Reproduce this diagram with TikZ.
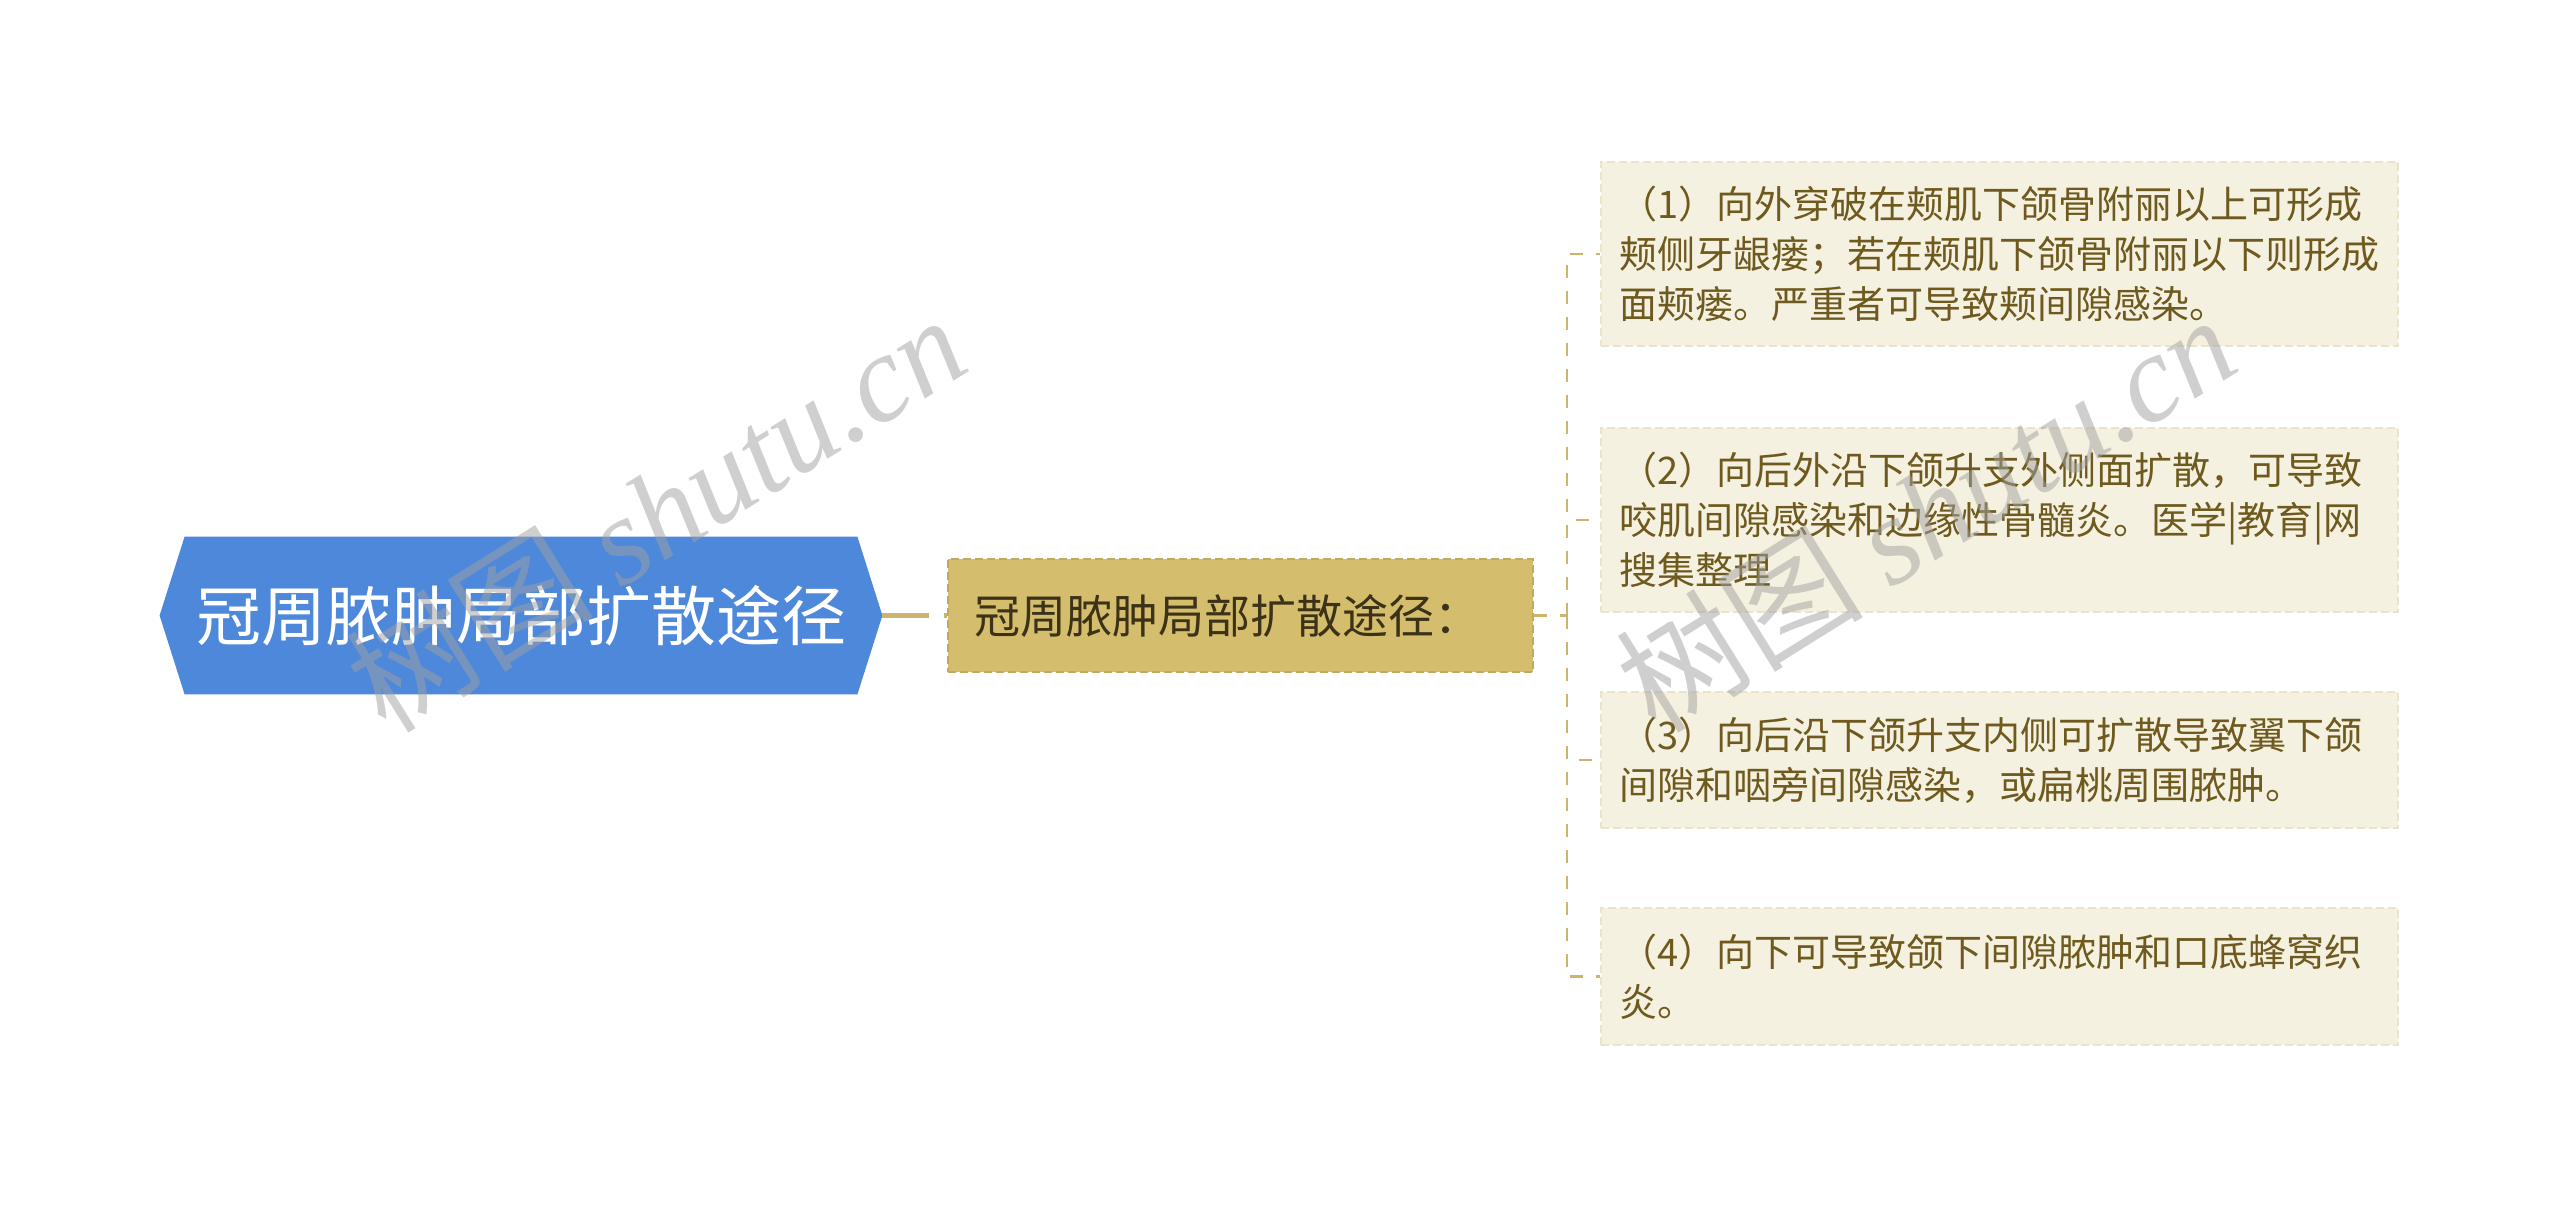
\documentclass[tikz,border=0pt]{standalone}
\usepackage{fontspec}
\setmainfont{Noto Sans CJK SC}
\newfontfamily\wmen{Liberation Serif}
\usetikzlibrary{calc,backgrounds}
\definecolor{bluefill}{HTML}{4D88DB}
\definecolor{goldfill}{HTML}{D4BD6C}
\definecolor{goldedge}{HTML}{C2A95C}
\definecolor{goldtext}{HTML}{3B3217}
\definecolor{leaffill}{HTML}{F5F1E0}
\definecolor{leafedge}{HTML}{ECE4CA}
\definecolor{leaftext}{HTML}{6E5A1E}
\definecolor{linkcol}{HTML}{CBB56E}
\definecolor{wmgray}{HTML}{A0A0A0}
\begin{document}
\begin{tikzpicture}[x=0.5pt,y=-0.5pt,
  rootbox/.style={minimum width=361pt, minimum height=78.5pt, inner sep=0pt, text=white, font=\fontsize{32.5pt}{36pt}\selectfont},
  midbox/.style={fill=goldfill, draw=goldedge, dash pattern=on 4pt off 2pt, line width=1pt, anchor=west, minimum width=292.5pt, minimum height=56.5pt, inner xsep=13pt, inner ysep=0pt, text width=266.5pt, align=left, text=goldtext, font=\fontsize{23pt}{27pt}\selectfont},
  leaf/.style={fill=leaffill, draw=leafedge, dash pattern=on 4pt off 2pt, line width=0.8pt, text=leaftext, anchor=west, minimum width=398.5pt, inner xsep=9.25pt, inner ysep=0pt, text width=380pt, align=left, font=\fontsize{19pt}{25pt}\selectfont},
  rootlink/.style={draw=linkcol, line width=2.4pt, dash pattern=on 23.5pt off 7.5pt},
  link/.style={draw=linkcol, line width=1.35pt, dash pattern=on 6.5pt off 6.5pt},
  wm/.style={rotate=32, text=wmgray, text opacity=0.5, inner sep=0pt, font=\fontsize{62pt}{66pt}\selectfont}
]
\useasboundingbox (0,0) rectangle (2560,1207);
\node[rootbox] (root) at (521,615.5) {冠周脓肿局部扩散途径};
\begin{pgfonlayer}{background}
\fill[bluefill] (root.west) -- ($(root.north west)+(25,0)$) -- ($(root.north east)+(-25,0)$) -- (root.east) -- ($(root.south east)+(-25,0)$) -- ($(root.south west)+(25,0)$) -- cycle;
\end{pgfonlayer}
\node[midbox] (mid) at (947,615.5) {冠周脓肿局部扩散途径：};
\node[leaf, minimum height=92pt] (l1) at (1600,254) {（1）向外穿破在颊肌下颌骨附丽以上可形成\\颊侧牙龈瘘；若在颊肌下颌骨附丽以下则形成\\面颊瘘。严重者可导致颊间隙感染。};
\node[leaf, minimum height=92pt] (l2) at (1600,520) {（2）向后外沿下颌升支外侧面扩散，可导致\\咬肌间隙感染和边缘性骨髓炎。医学|教育|网\\搜集整理};
\node[leaf, minimum height=68pt] (l3) at (1600,760) {（3）向后沿下颌升支内侧可扩散导致翼下颌\\间隙和咽旁间隙感染，或扁桃周围脓肿。};
\node[leaf, minimum height=68.5pt] (l4) at (1600,976.5) {（4）向下可导致颌下间隙脓肿和口底蜂窝织\\炎。};
\coordinate (trunk) at (1567,615.5);
\draw[rootlink] (root.east) -- (mid.west);
\draw[link] (mid.east) -- (trunk);
\foreach \n in {l1,l2,l3,l4} \draw[link] (trunk) |- (\n.west);
\node[wm] (wm1) at (655,512) {树图 {\wmen\itshape shutu.cn}};
\node[wm] (wm2) at (1925,512) {树图 {\wmen\itshape shutu.cn}};
\end{tikzpicture}
\end{document}
